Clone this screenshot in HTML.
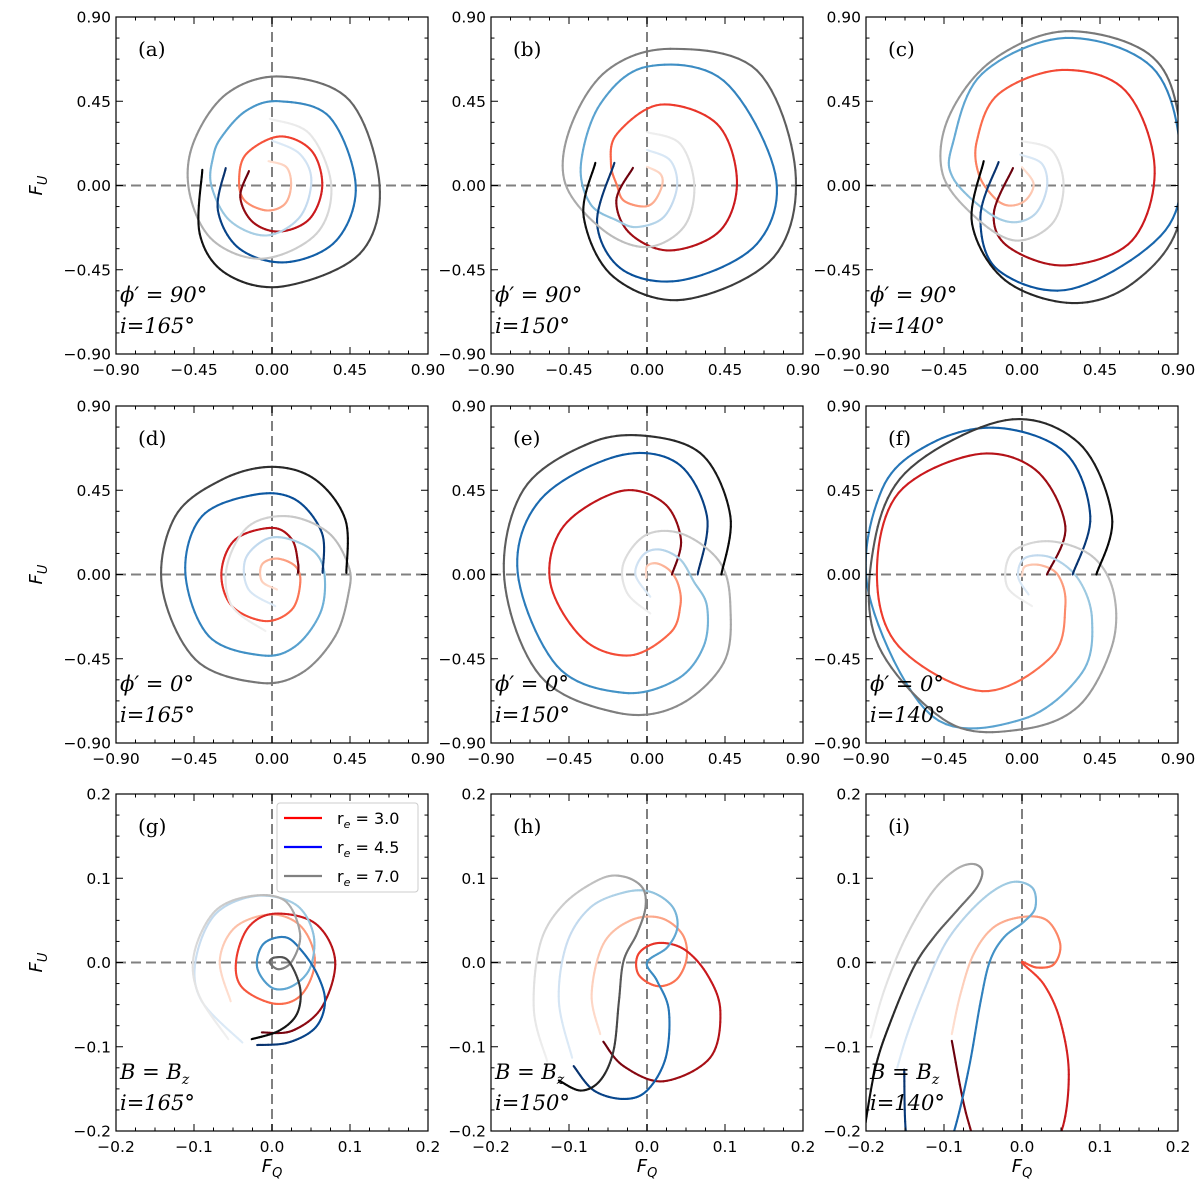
<!DOCTYPE html>
<html><head><meta charset="utf-8">
<style>
html,body{margin:0;padding:0;background:#fff;}
svg{display:block;}
</style></head>
<body>
<svg id="fig" width="1200" height="1189" viewBox="0 0 1200 1189" xmlns="http://www.w3.org/2000/svg" font-family="DejaVu Sans, Liberation Sans, sans-serif"></svg>
<script>
// ---- data (data units: F_Q, F_U), each ordered from start (light) to end (dark) ----
const redA=[[-0.02,0.13],[0.083,0.098],[0.11,0],[0.073,-0.10],[-0.033,-0.133],[-0.158,-0.08],[-0.19,0.027],[-0.148,0.169],[0.044,0.262],[0.227,0.187],[0.29,0],[0.217,-0.178],[0.044,-0.246],[-0.11,-0.196],[-0.183,-0.062],[-0.133,0.077]];
const blueA=[[0,0.24],[0.16,0.169],[0.227,0.027],[0.16,-0.169],[-0.033,-0.267],[-0.244,-0.187],[-0.35,0],[-0.34,0.151],[-0.292,0.258],[-0.148,0.40],[0.044,0.45],[0.333,0.365],[0.483,0],[0.371,-0.294],[0.083,-0.41],[-0.187,-0.338],[-0.312,-0.133],[-0.267,0.093]];
const grayA=[[-0.013,0.356],[0.217,0.276],[0.342,0],[0.256,-0.258],[-0.052,-0.391],[-0.34,-0.294],[-0.475,-0.044],[-0.456,0.222],[-0.263,0.489],[0.054,0.582],[0.448,0.454],[0.621,0],[0.506,-0.365],[0.063,-0.539],[-0.263,-0.472],[-0.417,-0.258],[-0.402,0.084]];

const redB=[[0,0.10],[0.077,0.062],[0.087,0],[0.038,-0.089],[-0.029,-0.112],[-0.135,-0.08],[-0.173,0],[-0.208,0.116],[-0.173,0.276],[0.077,0.432],[0.404,0.329],[0.519,0.027],[0.423,-0.24],[0.135,-0.347],[-0.096,-0.258],[-0.177,-0.08],[-0.081,0.094]];
const blueB=[[0,0.19],[0.135,0.133],[0.173,-0.009],[0.096,-0.169],[-0.058,-0.222],[-0.173,-0.187],[-0.327,-0.098],[-0.381,0.116],[-0.269,0.436],[0,0.635],[0.442,0.56],[0.74,0.062],[0.635,-0.311],[0.212,-0.504],[-0.135,-0.454],[-0.288,-0.205],[-0.188,0.121]];
const grayB=[[0,0.285],[0.192,0.222],[0.273,0],[0.212,-0.222],[0,-0.329],[-0.25,-0.24],[-0.471,0.009],[-0.442,0.311],[-0.231,0.614],[0.135,0.73],[0.635,0.614],[0.856,0.08],[0.731,-0.383],[0.212,-0.61],[-0.192,-0.489],[-0.365,-0.169],[-0.298,0.121]];

const redC=[[0,0.098],[0.067,0.009],[0.019,-0.08],[-0.077,-0.107],[-0.163,-0.062],[-0.25,0.062],[-0.26,0.24],[-0.135,0.489],[0.231,0.617],[0.596,0.507],[0.765,0.098],[0.635,-0.294],[0.25,-0.427],[-0.077,-0.329],[-0.163,-0.151],[-0.052,0.093]];
const blueC=[[-0.01,0.165],[0.115,0.116],[0.144,-0.009],[0.077,-0.151],[-0.058,-0.196],[-0.212,-0.133],[-0.4,0.044],[-0.4,0.222],[-0.231,0.596],[0.25,0.788],[0.75,0.632],[0.913,0.187],[0.827,-0.24],[0.288,-0.552],[-0.135,-0.454],[-0.24,-0.169],[-0.135,0.125]];
const grayC=[[0,0.237],[0.173,0.187],[0.24,0],[0.173,-0.205],[-0.038,-0.294],[-0.269,-0.169],[-0.458,0.062],[-0.423,0.365],[-0.173,0.667],[0.25,0.824],[0.731,0.703],[0.904,0.365],[0.904,-0.205],[0.635,-0.525],[0.288,-0.628],[-0.096,-0.507],[-0.288,-0.205],[-0.221,0.13]];

const redD=[[0.029,-0.08],[-0.058,-0.036],[-0.058,0.053],[0.029,0.085],[0.135,0.044],[0.163,-0.044],[0.115,-0.187],[-0.038,-0.249],[-0.231,-0.169],[-0.292,0.009],[-0.212,0.187],[0,0.249],[0.115,0.187],[0.15,0.062],[0.15,0.009]];
const blueD=[[0.019,-0.169],[-0.135,-0.08],[-0.154,0.08],[-0.038,0.187],[0.096,0.19],[0.25,0.116],[0.304,-0.009],[0.279,-0.205],[0.135,-0.383],[-0.058,-0.432],[-0.365,-0.329],[-0.5,0.009],[-0.404,0.311],[-0.096,0.427],[0.135,0.40],[0.288,0.222],[0.292,0.009]];
const grayD=[[-0.038,-0.302],[-0.231,-0.169],[-0.26,0.044],[-0.135,0.258],[0.096,0.311],[0.327,0.222],[0.442,0.044],[0.442,-0.098],[0.365,-0.329],[0.173,-0.525],[-0.077,-0.578],[-0.442,-0.454],[-0.635,-0.062],[-0.558,0.311],[-0.288,0.507],[0,0.575],[0.25,0.507],[0.423,0.294],[0.429,0.009]];

const redE=[[-0.004,-0.018],[0,0.044],[0.058,0.059],[0.135,0.018],[0.183,-0.062],[0.192,-0.169],[0.135,-0.311],[-0.096,-0.432],[-0.365,-0.347],[-0.558,-0.044],[-0.481,0.258],[-0.154,0.445],[0.096,0.383],[0.196,0.187],[0.144,0]];
const blueE=[[0.019,-0.119],[-0.067,0],[-0.019,0.107],[0.077,0.133],[0.192,0.08],[0.269,-0.036],[0.346,-0.169],[0.327,-0.383],[0.173,-0.56],[-0.135,-0.632],[-0.519,-0.489],[-0.746,0.009],[-0.615,0.40],[-0.173,0.632],[0.173,0.596],[0.346,0.311],[0.292,0]];
const grayE=[[0.019,-0.208],[-0.115,-0.098],[-0.135,0.062],[0,0.214],[0.212,0.214],[0.423,0.062],[0.481,-0.169],[0.442,-0.472],[0.173,-0.703],[-0.173,-0.738],[-0.615,-0.543],[-0.823,-0.027],[-0.712,0.454],[-0.327,0.703],[0.019,0.738],[0.327,0.632],[0.481,0.311],[0.429,0]];

const redF=[[0,-0.009],[0.019,0.044],[0.115,0.048],[0.212,-0.009],[0.25,-0.169],[0.173,-0.436],[-0.231,-0.623],[-0.712,-0.383],[-0.837,0.009],[-0.712,0.436],[-0.269,0.641],[0.077,0.56],[0.25,0.258],[0.144,0]];
const blueF=[[0.038,-0.107],[-0.023,-0.009],[0.019,0.089],[0.173,0.089],[0.327,-0.027],[0.404,-0.24],[0.346,-0.525],[0,-0.774],[-0.519,-0.756],[-0.885,-0.098],[-0.808,0.454],[-0.519,0.703],[-0.135,0.783],[0.25,0.65],[0.394,0.311],[0.292,0]];
const grayF=[[0.058,-0.169],[-0.087,-0.062],[-0.058,0.116],[0.154,0.178],[0.404,0.098],[0.529,-0.098],[0.519,-0.383],[0.327,-0.703],[0,-0.827],[-0.423,-0.791],[-0.827,-0.383],[-0.865,0.098],[-0.673,0.543],[-0.096,0.824],[0.327,0.703],[0.519,0.311],[0.429,0]];

const redG=[[-0.053,-0.046],[-0.067,0.002],[-0.047,0.042],[0,0.057],[0.038,0.042],[0.055,0.002],[0.038,-0.038],[0.004,-0.049],[-0.038,-0.03],[-0.046,0.002],[-0.03,0.042],[0.004,0.058],[0.056,0.046],[0.081,0.002],[0.064,-0.053],[0.026,-0.081],[-0.013,-0.083]];
const blueG=[[-0.038,-0.095],[-0.09,-0.046],[-0.098,0.002],[-0.073,0.057],[-0.021,0.079],[0.03,0.069],[0.053,0.034],[0.049,-0.006],[0.026,-0.028],[0,-0.03],[-0.019,-0.006],[-0.011,0.022],[0.017,0.03],[0.038,0.014],[0.058,-0.014],[0.068,-0.046],[0.056,-0.077],[0.021,-0.095],[-0.019,-0.098]];
const grayG=[[-0.056,-0.091],[-0.094,-0.038],[-0.1,0.01],[-0.073,0.061],[-0.026,0.079],[0.017,0.073],[0.036,0.034],[0.026,0.002],[0.009,-0.008],[-0.003,0],[0.004,0.006],[0.021,0.002],[0.036,-0.03],[0.032,-0.061],[0.009,-0.081],[-0.026,-0.091]];

const redH=[[-0.06,-0.085],[-0.071,-0.038],[-0.056,0.022],[-0.021,0.05],[0.017,0.053],[0.045,0.034],[0.051,0.006],[0.038,-0.02],[0.013,-0.028],[-0.011,-0.014],[-0.011,0.01],[0.013,0.023],[0.047,0.016],[0.077,-0.014],[0.094,-0.057],[0.081,-0.113],[0.021,-0.141],[-0.03,-0.123],[-0.056,-0.094]];
const blueH=[[-0.096,-0.113],[-0.113,-0.046],[-0.103,0.022],[-0.073,0.065],[-0.03,0.083],[0.004,0.084],[0.032,0.067],[0.039,0.042],[0.026,0.018],[0,0],[0.013,-0.022],[0.028,-0.057],[0.024,-0.113],[0,-0.152],[-0.03,-0.162],[-0.068,-0.152],[-0.094,-0.123]];
const grayH=[[-0.128,-0.117],[-0.145,-0.057],[-0.137,0.022],[-0.107,0.069],[-0.06,0.099],[-0.03,0.102],[-0.006,0.089],[-0.002,0.065],[-0.013,0.034],[-0.03,0.002],[-0.036,-0.046],[-0.043,-0.105],[-0.06,-0.14],[-0.085,-0.152],[-0.113,-0.14]];

const redI=[[-0.09,-0.085],[-0.079,-0.038],[-0.062,0.01],[-0.036,0.042],[0,0.054],[0.032,0.05],[0.049,0.022],[0.041,-0.002],[0.019,-0.006],[0,0],[0.028,-0.026],[0.049,-0.069],[0.06,-0.133],[0.049,-0.204],[0.011,-0.244],[-0.045,-0.236],[-0.07,-0.185],[-0.09,-0.093]];
const blueI=[[-0.16,-0.125],[-0.147,-0.085],[-0.126,-0.034],[-0.096,0.026],[-0.053,0.073],[-0.015,0.095],[0.013,0.089],[0.017,0.065],[0.002,0.048],[-0.023,0.03],[-0.041,0.002],[-0.053,-0.046],[-0.068,-0.125],[-0.087,-0.2],[-0.109,-0.252],[-0.139,-0.244],[-0.149,-0.2],[-0.151,-0.127]];
const grayI=[[-0.194,-0.089],[-0.177,-0.034],[-0.151,0.026],[-0.117,0.081],[-0.087,0.109],[-0.064,0.117],[-0.051,0.109],[-0.058,0.089],[-0.083,0.062],[-0.113,0.03],[-0.139,-0.006],[-0.168,-0.069],[-0.188,-0.125],[-0.203,-0.204]];

const ticksBig=["\u22120.90","\u22120.45","0.00","0.45","0.90"];
const ticksBigVals=[-0.9,-0.45,0,0.45,0.9];
const ticksSmall=["\u22120.2","\u22120.1","0.0","0.1","0.2"];
const ticksSmallVals=[-0.2,-0.1,0,0.1,0.2];
const panelLetters=["(a)","(b)","(c)","(d)","(e)","(f)","(g)","(h)","(i)"];
const incl=["165","150","140"];
const legendLabels=["3.0","4.5","7.0"];

// ---- rendering ----
const NS="http://www.w3.org/2000/svg";
const svg=document.getElementById('fig');
const SERIF='DejaVu Serif, Liberation Serif, serif';
function mk(tag,attrs,parent){const e=document.createElementNS(NS,tag);for(const k in attrs)e.setAttribute(k,attrs[k]);(parent||svg).appendChild(e);return e;}
const CMAPS={
 red:['#fff5f0','#fee0d2','#fcbba1','#fc9272','#fb6a4a','#ef3b2c','#cb181d','#a50f15','#67000d'],
 blue:['#f7fbff','#deebf7','#c6dbef','#9ecae1','#6baed6','#4292c6','#2171b5','#08519c','#08306b'],
 gray:['#ffffff','#f0f0f0','#d9d9d9','#bdbdbd','#969696','#737373','#525252','#252525','#000000']};
function hex(c){return [parseInt(c.slice(1,3),16),parseInt(c.slice(3,5),16),parseInt(c.slice(5,7),16)];}
function cmap(name,t){const s=CMAPS[name];const p=t*(s.length-1);const i=Math.min(Math.floor(p),s.length-2);const f=p-i;const a=hex(s[i]),b=hex(s[i+1]);return 'rgb('+a.map((v,k)=>Math.round(v+(b[k]-v)*f)).join(',')+')';}
function smooth(pts){const out=[];const n=pts.length;for(let i=0;i<n-1;i++){const p0=pts[Math.max(i-1,0)],p1=pts[i],p2=pts[i+1],p3=pts[Math.min(i+2,n-1)];for(let s=0;s<12;s++){const t=s/12,t2=t*t,t3=t2*t;out.push([0.5*((2*p1[0])+(-p0[0]+p2[0])*t+(2*p0[0]-5*p1[0]+4*p2[0]-p3[0])*t2+(-p0[0]+3*p1[0]-3*p2[0]+p3[0])*t3),0.5*((2*p1[1])+(-p0[1]+p2[1])*t+(2*p0[1]-5*p1[1]+4*p2[1]-p3[1])*t2+(-p0[1]+3*p1[1]-3*p2[1]+p3[1])*t3)]);}}out.push(pts[n-1]);return out;}

const colL=[116,491,866], rowT=[17,406,794], PW=312, PH=337;
const panelData=[
 [redA,blueA,grayA],[redB,blueB,grayB],[redC,blueC,grayC],
 [redD,blueD,grayD],[redE,blueE,grayE],[redF,blueF,grayF],
 [redG,blueG,grayG],[redH,blueH,grayH],[redI,blueI,grayI]];
const names=['red','blue','gray'];

for(let p=0;p<9;p++){
 const r=Math.floor(p/3),c=p%3;
 const L=colL[c],T=rowT[r];
 const big=r<2, lim=big?0.9:0.2;
 const xs=v=>L+(v+lim)/(2*lim)*PW;
 const ys=v=>T+(lim-v)/(2*lim)*PH;
 const g=mk('g',{},svg);
 
 
 const cid='clip'+p;
 const cp=mk('clipPath',{id:cid},g);mk('rect',{x:L,y:T,width:PW,height:PH},cp);
 const zh=mk('line',{x1:L,x2:L+PW,y1:ys(0),y2:ys(0),stroke:'#808080','stroke-width':2,'stroke-dasharray':'10,5'},g);
 
 const zv=mk('line',{x1:xs(0),x2:xs(0),y1:T,y2:T+PH,stroke:'#808080','stroke-width':2,'stroke-dasharray':'10,5'},g);
 
 const cg=mk('g',{'clip-path':'url(#'+cid+')'},g);
 for(let s=0;s<3;s++){
  const sg=mk('g',{},cg);
  
  
  const pts=smooth(panelData[p][s]).map(q=>[xs(q[0]),ys(q[1])]);
  const n=pts.length;
  for(let i=0;i<n-1;i++){
   const t=0.12+0.88*(i/(n-2));
   mk('line',{x1:pts[i][0].toFixed(2),y1:pts[i][1].toFixed(2),x2:pts[i+1][0].toFixed(2),y2:pts[i+1][1].toFixed(2),stroke:cmap(names[s],t),'stroke-width':2.1,'stroke-linecap':'round'},sg);
  }
 }
 const fr=mk('rect',{x:L,y:T,width:PW,height:PH,fill:'none',stroke:'#000','stroke-width':1.2},g);
 
 const vals=big?ticksBigVals:ticksSmallVals, labs=big?ticksBig:ticksSmall;
 const minorStep=big?0.1125:0.025;
 const tg=mk('g',{stroke:'#000','stroke-width':1},g);
 for(let k=0;k<=Math.round(2*lim/minorStep);k++){
  const v=-lim+k*minorStep;
  const isMaj=(k%4===0), len=isMaj?7:3.5;
  const X=xs(v),Y=ys(v);
  mk('line',{x1:X,x2:X,y1:T+PH,y2:T+PH-len},tg);mk('line',{x1:X,x2:X,y1:T,y2:T+len},tg);
  mk('line',{x1:L,x2:L+len,y1:Y,y2:Y},tg);mk('line',{x1:L+PW,x2:L+PW-len,y1:Y,y2:Y},tg);
 }
 for(let k=0;k<vals.length;k++){
  const xl=mk('text',{x:xs(vals[k]),y:T+PH+21,'text-anchor':'middle','font-size':15.5,fill:'#000'},g);
  xl.textContent=labs[k];
  const yl=mk('text',{x:L-5,y:ys(vals[k])+5.5,'text-anchor':'end','font-size':15.5,fill:'#000'},g);
  yl.textContent=labs[k];
 }
 const pl=mk('text',{x:L+22,y:T+39,'font-size':20,'font-family':SERIF,fill:'#000'},g);
 pl.textContent=panelLetters[p];
 const a1=mk('text',{x:L+4,y:T+285,'font-size':21,'font-style':'italic','font-family':SERIF,fill:'#000'},g);
 
 if(r===0)a1.textContent='\u03d5\u2032 = 90\u00b0';
 else if(r===1)a1.textContent='\u03d5\u2032 = 0\u00b0';
 else {a1.textContent='B = B';const sub=mk('tspan',{'font-size':14,dy:5},a1);sub.textContent='z';}
 const a2=mk('text',{x:L+4,y:T+316,'font-size':21,'font-style':'italic','font-family':SERIF,fill:'#000'},g);
 a2.textContent='i='+incl[c]+'\u00b0';
 if(c===0){
  const yt=mk('text',{x:0,y:0,'font-size':18,'font-style':'italic',fill:'#000','text-anchor':'middle',transform:'translate(42,'+(T+PH/2)+') rotate(-90)'},g);
  yt.textContent='F';const s2=mk('tspan',{'font-size':13,dy:5},yt);s2.textContent='U';
  
 }
 if(r===2){
  const xt=mk('text',{x:L+PW/2,y:1172,'font-size':18,'font-style':'italic',fill:'#000','text-anchor':'middle'},g);
  xt.textContent='F';const s3=mk('tspan',{'font-size':13,dy:5},xt);s3.textContent='Q';
  
 }
}
const lg=mk('g',{},svg);

mk('rect',{x:277,y:803,width:141,height:89,rx:3,fill:'#fff','fill-opacity':0.85,stroke:'#cccccc','stroke-width':1},lg);
const legCols=['#ff0000','#0000ff','#808080'];
for(let k=0;k<3;k++){
 const y=818+k*29;
 const e=mk('g',{},lg);
 
 mk('line',{x1:284,x2:322,y1:y,y2:y,stroke:legCols[k],'stroke-width':2.2},e);
 const t=mk('text',{x:337,y:y+6,'font-size':16,fill:'#000'},e);
 t.textContent='r';const sb=mk('tspan',{'font-size':11,dy:4,'font-style':'italic'},t);sb.textContent='e';
 const rest=mk('tspan',{dy:-4},t);rest.textContent=' = '+legendLabels[k];
}
</script>
</body></html>
